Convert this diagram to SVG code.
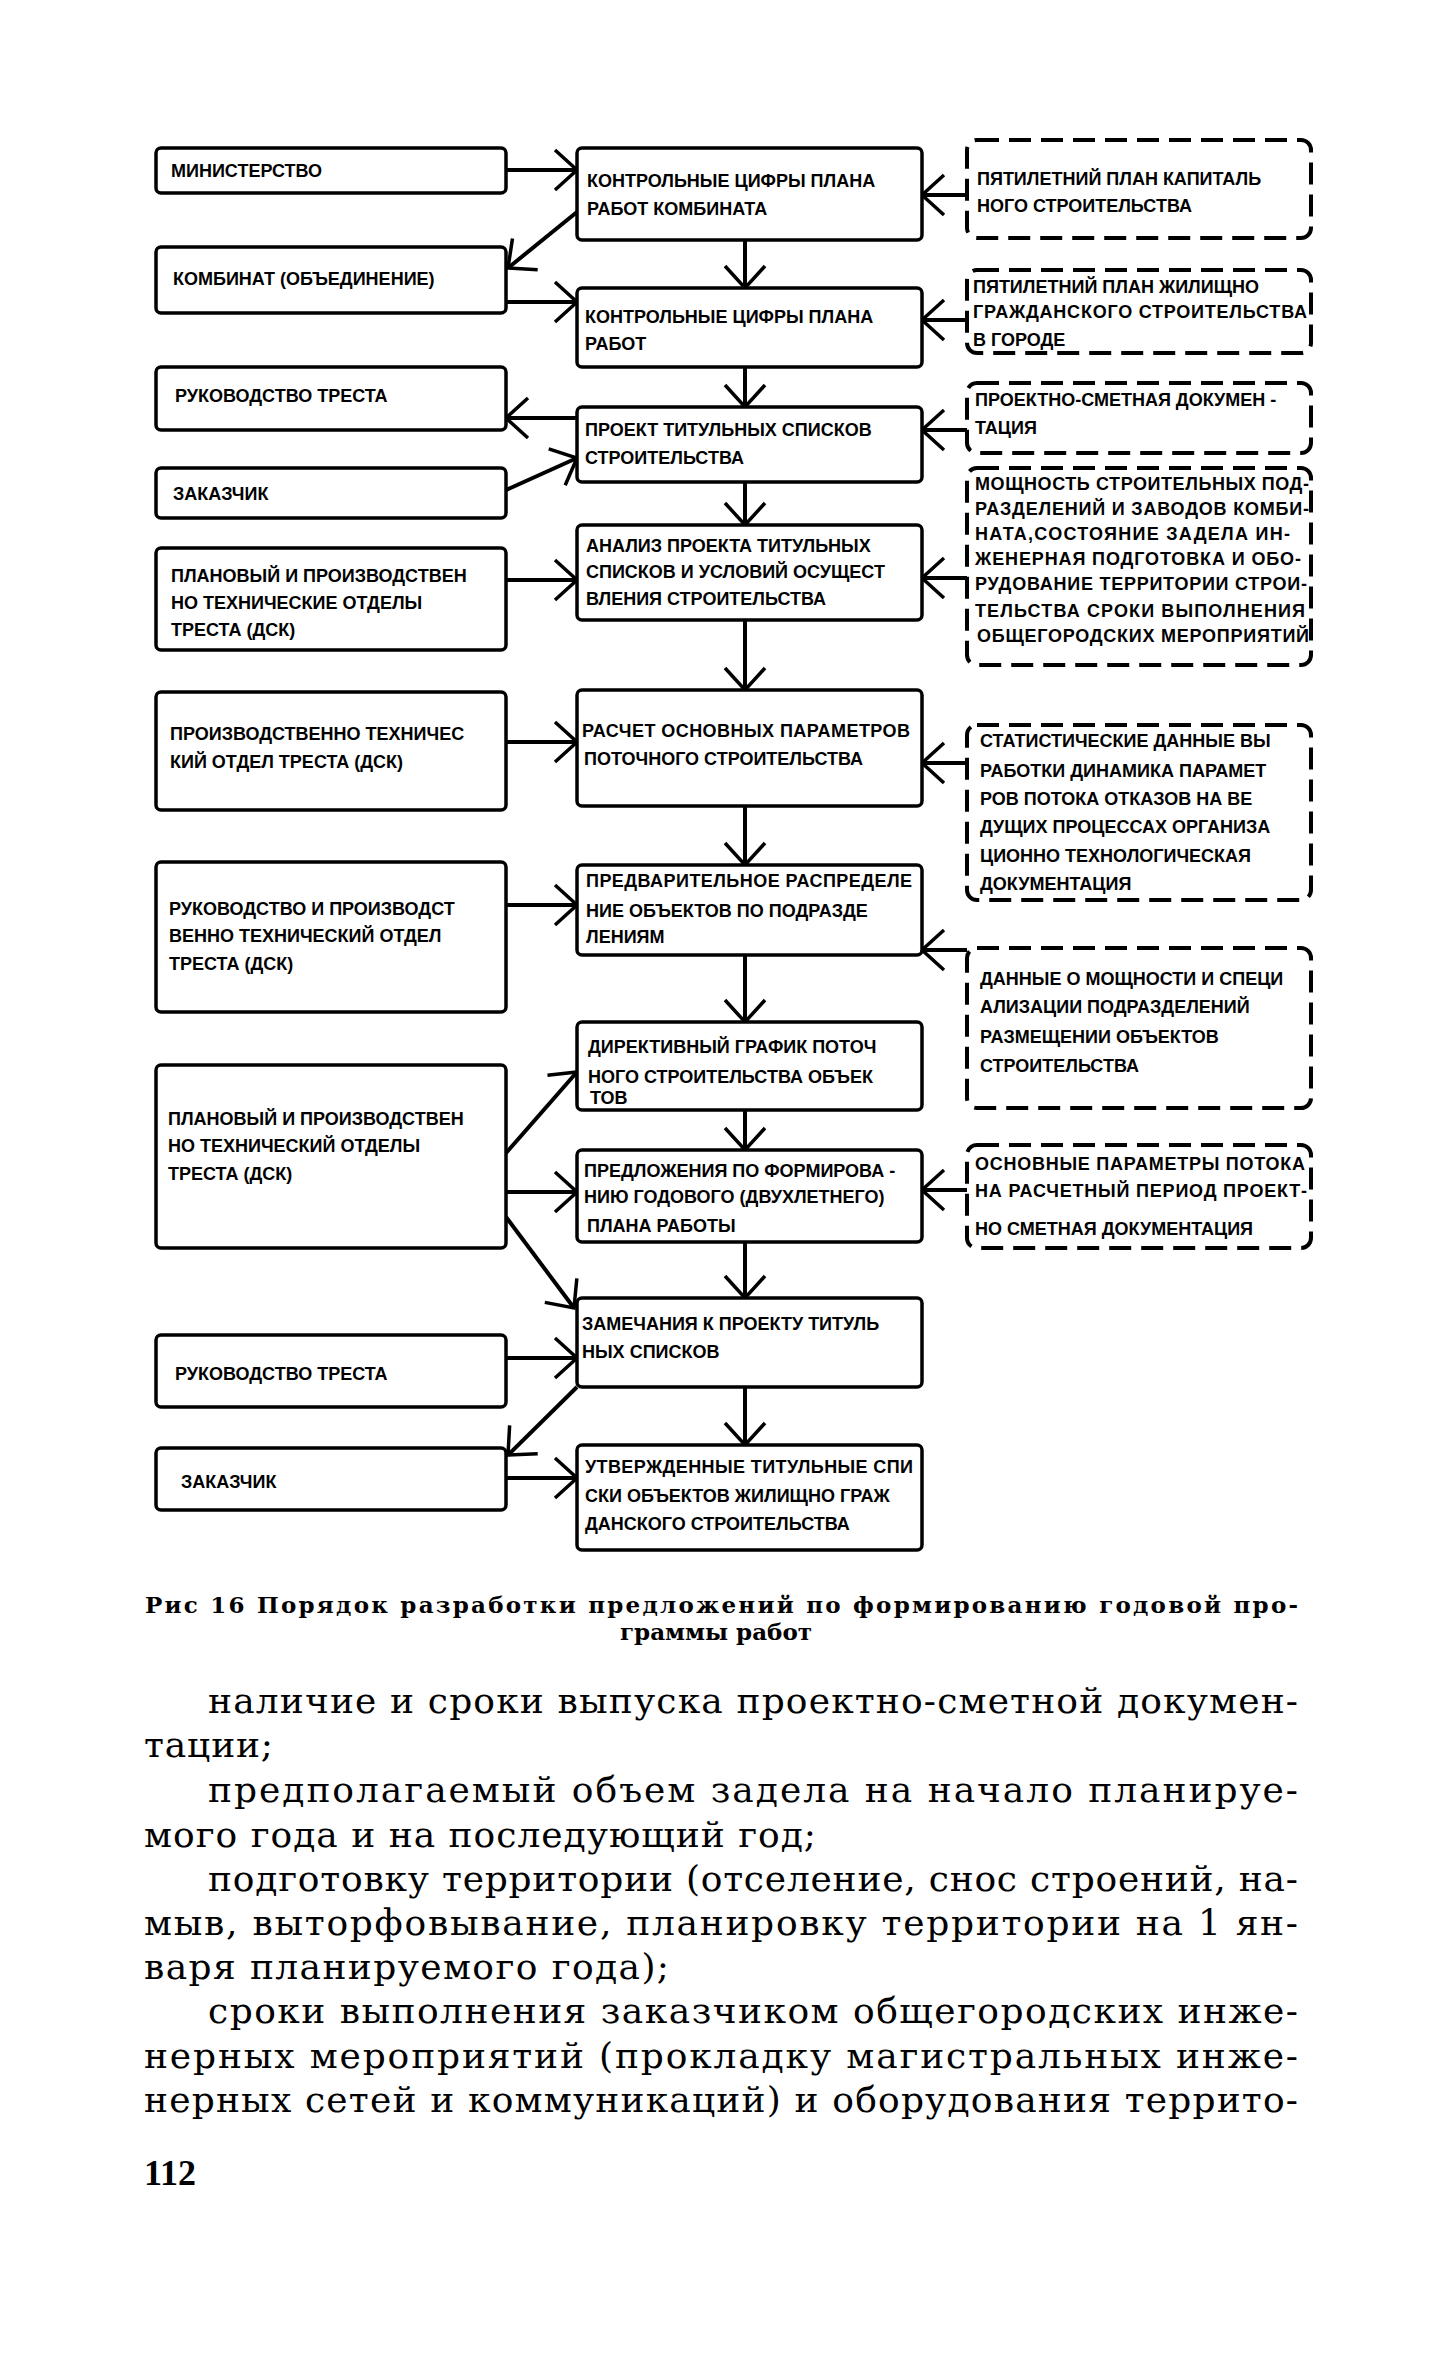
<svg xmlns="http://www.w3.org/2000/svg" width="1449" height="2362" viewBox="0 0 1449 2362">
<style>
.box{fill:#fff;stroke:#000;stroke-width:3.5}
.dbox{fill:#fff;stroke:#000;stroke-width:4;stroke-dasharray:22 10}
.t{font-family:"Liberation Sans",Arial,sans-serif;font-weight:bold;font-size:18px;fill:#000}
.c{stroke:#000;stroke-width:4;fill:none;marker-end:url(#ah)}
.body{font-family:"DejaVu Serif","Liberation Serif",serif;font-size:36px;fill:#000}
.cap{font-family:"DejaVu Serif","Liberation Serif",serif;font-weight:bold;font-size:23px;fill:#000}
.pg{font-family:"Liberation Serif","Times New Roman",serif;font-weight:bold;font-size:36px;fill:#000}
</style>
<defs>
<marker id="ah" markerUnits="userSpaceOnUse" markerWidth="30" markerHeight="46" viewBox="0 0 30 46" refX="26" refY="23" orient="auto">
<path d="M4,3 L26,23 L4,43" fill="none" stroke="#000" stroke-width="3.5"/>
</marker>
</defs>
<rect width="1449" height="2362" fill="#fff"/>

<g id="connectors">
<line class="c" x1="506" y1="170" x2="577" y2="170"/>
<line class="c" x1="577" y1="212" x2="508" y2="268"/>
<line class="c" x1="506" y1="302" x2="577" y2="302"/>
<line class="c" x1="967" y1="195" x2="922" y2="195"/>
<line class="c" x1="967" y1="320" x2="922" y2="320"/>
<line class="c" x1="577" y1="418" x2="506" y2="418"/>
<line class="c" x1="506" y1="490" x2="577" y2="458"/>
<line class="c" x1="967" y1="430" x2="922" y2="430"/>
<line class="c" x1="506" y1="580" x2="577" y2="580"/>
<line class="c" x1="967" y1="578" x2="922" y2="578"/>
<line class="c" x1="506" y1="742" x2="577" y2="742"/>
<line class="c" x1="967" y1="763" x2="922" y2="763"/>
<line class="c" x1="506" y1="905" x2="577" y2="905"/>
<line class="c" x1="967" y1="950" x2="922" y2="950"/>
<line class="c" x1="506" y1="1153" x2="577" y2="1072"/>
<line class="c" x1="506" y1="1192" x2="577" y2="1192"/>
<line class="c" x1="506" y1="1217" x2="574" y2="1308"/>
<line class="c" x1="967" y1="1190" x2="922" y2="1190"/>
<line class="c" x1="506" y1="1358" x2="577" y2="1358"/>
<line class="c" x1="577" y1="1387" x2="508" y2="1455"/>
<line class="c" x1="506" y1="1478" x2="577" y2="1478"/>
<line class="c" x1="745" y1="240" x2="745" y2="288"/>
<line class="c" x1="745" y1="367" x2="745" y2="407"/>
<line class="c" x1="745" y1="482" x2="745" y2="525"/>
<line class="c" x1="745" y1="620" x2="745" y2="690"/>
<line class="c" x1="745" y1="806" x2="745" y2="865"/>
<line class="c" x1="745" y1="955" x2="745" y2="1022"/>
<line class="c" x1="745" y1="1110" x2="745" y2="1150"/>
<line class="c" x1="745" y1="1242" x2="745" y2="1298"/>
<line class="c" x1="745" y1="1387" x2="745" y2="1445"/>
</g>

<g id="n-ministry"><rect class="box" x="156" y="148" width="350" height="45" rx="5"/><text class="t" x="171" y="177">МИНИСТЕРСТВО</text></g>
<g id="n-kombinat"><rect class="box" x="156" y="247" width="350" height="66" rx="5"/><text class="t" x="173" y="285">КОМБИНАТ (ОБЪЕДИНЕНИЕ)</text></g>
<g id="n-rukovodstvo1"><rect class="box" x="156" y="367" width="350" height="63" rx="5"/><text class="t" x="175" y="402">РУКОВОДСТВО ТРЕСТА</text></g>
<g id="n-zakazchik1"><rect class="box" x="156" y="468" width="350" height="50" rx="5"/><text class="t" x="173" y="500">ЗАКАЗЧИК</text></g>
<g id="n-planovy1"><rect class="box" x="156" y="548" width="350" height="102" rx="5"/><text class="t" x="171" y="582">ПЛАНОВЫЙ И ПРОИЗВОДСТВЕН</text><text class="t" x="171" y="609">НО ТЕХНИЧЕСКИЕ ОТДЕЛЫ</text><text class="t" x="171" y="636">ТРЕСТА (ДСК)</text></g>
<g id="n-pto"><rect class="box" x="156" y="692" width="350" height="118" rx="5"/><text class="t" x="170" y="740">ПРОИЗВОДСТВЕННО ТЕХНИЧЕС</text><text class="t" x="170" y="768">КИЙ ОТДЕЛ ТРЕСТА (ДСК)</text></g>
<g id="n-rukpto"><rect class="box" x="156" y="862" width="350" height="150" rx="5"/><text class="t" x="169" y="915">РУКОВОДСТВО И ПРОИЗВОДСТ</text><text class="t" x="169" y="942">ВЕННО ТЕХНИЧЕСКИЙ ОТДЕЛ</text><text class="t" x="169" y="970">ТРЕСТА (ДСК)</text></g>
<g id="n-planovy2"><rect class="box" x="156" y="1065" width="350" height="183" rx="5"/><text class="t" x="168" y="1125">ПЛАНОВЫЙ И ПРОИЗВОДСТВЕН</text><text class="t" x="168" y="1152">НО ТЕХНИЧЕСКИЙ ОТДЕЛЫ</text><text class="t" x="168" y="1180">ТРЕСТА (ДСК)</text></g>
<g id="n-rukovodstvo2"><rect class="box" x="156" y="1335" width="350" height="72" rx="5"/><text class="t" x="175" y="1380">РУКОВОДСТВО ТРЕСТА</text></g>
<g id="n-zakazchik2"><rect class="box" x="156" y="1448" width="350" height="62" rx="5"/><text class="t" x="181" y="1488">ЗАКАЗЧИК</text></g>

<g id="n-kc1"><rect class="box" x="577" y="148" width="345" height="92" rx="5"/><text class="t" x="587" y="187">КОНТРОЛЬНЫЕ ЦИФРЫ ПЛАНА</text><text class="t" x="587" y="215">РАБОТ КОМБИНАТА</text></g>
<g id="n-kc2"><rect class="box" x="577" y="288" width="345" height="79" rx="5"/><text class="t" x="585" y="323">КОНТРОЛЬНЫЕ ЦИФРЫ ПЛАНА</text><text class="t" x="585" y="350">РАБОТ</text></g>
<g id="n-proekt"><rect class="box" x="577" y="407" width="345" height="75" rx="5"/><text class="t" x="585" y="436">ПРОЕКТ ТИТУЛЬНЫХ СПИСКОВ</text><text class="t" x="585" y="464">СТРОИТЕЛЬСТВА</text></g>
<g id="n-analiz"><rect class="box" x="577" y="525" width="345" height="95" rx="5"/><text class="t" x="586" y="552">АНАЛИЗ ПРОЕКТА ТИТУЛЬНЫХ</text><text class="t" x="586" y="578">СПИСКОВ И УСЛОВИЙ ОСУЩЕСТ</text><text class="t" x="586" y="605">ВЛЕНИЯ СТРОИТЕЛЬСТВА</text></g>
<g id="n-raschet"><rect class="box" x="577" y="690" width="345" height="116" rx="5"/><text class="t" x="582" y="737" textLength="328">РАСЧЕТ ОСНОВНЫХ ПАРАМЕТРОВ</text><text class="t" x="584" y="765">ПОТОЧНОГО СТРОИТЕЛЬСТВА</text></g>
<g id="n-predv"><rect class="box" x="577" y="865" width="345" height="90" rx="5"/><text class="t" x="586" y="887" textLength="326">ПРЕДВАРИТЕЛЬНОЕ РАСПРЕДЕЛЕ</text><text class="t" x="586" y="917">НИЕ ОБЪЕКТОВ ПО ПОДРАЗДЕ</text><text class="t" x="586" y="943">ЛЕНИЯМ</text></g>
<g id="n-direkt"><rect class="box" x="577" y="1022" width="345" height="88" rx="5"/><text class="t" x="588" y="1053">ДИРЕКТИВНЫЙ ГРАФИК ПОТОЧ</text><text class="t" x="588" y="1083">НОГО  СТРОИТЕЛЬСТВА ОБЪЕК</text><text class="t" x="590" y="1104">ТОВ</text></g>
<g id="n-predl"><rect class="box" x="577" y="1150" width="345" height="92" rx="5"/><text class="t" x="584" y="1177">ПРЕДЛОЖЕНИЯ ПО ФОРМИРОВА -</text><text class="t" x="584" y="1203">НИЮ ГОДОВОГО (ДВУХЛЕТНЕГО)</text><text class="t" x="587" y="1232">ПЛАНА РАБОТЫ</text></g>
<g id="n-zamech"><rect class="box" x="577" y="1298" width="345" height="89" rx="5"/><text class="t" x="582" y="1330">ЗАМЕЧАНИЯ К ПРОЕКТУ ТИТУЛЬ</text><text class="t" x="582" y="1358">НЫХ СПИСКОВ</text></g>
<g id="n-utv"><rect class="box" x="577" y="1445" width="345" height="105" rx="5"/><text class="t" x="585" y="1473" textLength="328">УТВЕРЖДЕННЫЕ ТИТУЛЬНЫЕ СПИ</text><text class="t" x="585" y="1502">СКИ ОБЪЕКТОВ ЖИЛИЩНО ГРАЖ</text><text class="t" x="585" y="1530">ДАНСКОГО СТРОИТЕЛЬСТВА</text></g>

<g id="n-plan-kap"><rect class="dbox" x="967" y="140" width="344" height="98" rx="10"/><text class="t" x="977" y="185">ПЯТИЛЕТНИЙ ПЛАН КАПИТАЛЬ</text><text class="t" x="977" y="212">НОГО СТРОИТЕЛЬСТВА</text></g>
<g id="n-plan-zhil"><rect class="dbox" x="967" y="270" width="344" height="83" rx="10"/><text class="t" x="973" y="293">ПЯТИЛЕТНИЙ ПЛАН ЖИЛИЩНО</text><text class="t" x="973" y="318" textLength="334">ГРАЖДАНСКОГО СТРОИТЕЛЬСТВА</text><text class="t" x="973" y="346">В ГОРОДЕ</text></g>
<g id="n-psd"><rect class="dbox" x="967" y="383" width="344" height="70" rx="10"/><text class="t" x="975" y="406">ПРОЕКТНО-СМЕТНАЯ ДОКУМЕН -</text><text class="t" x="975" y="434">ТАЦИЯ</text></g>
<g id="n-moshch"><rect class="dbox" x="967" y="468" width="344" height="197" rx="10"/>
<text class="t" x="975" y="490" textLength="334">МОЩНОСТЬ СТРОИТЕЛЬНЫХ ПОД-</text>
<text class="t" x="975" y="515" textLength="334">РАЗДЕЛЕНИЙ И ЗАВОДОВ КОМБИ-</text>
<text class="t" x="975" y="540" textLength="315">НАТА,СОСТОЯНИЕ ЗАДЕЛА ИН-</text>
<text class="t" x="975" y="565" textLength="326">ЖЕНЕРНАЯ ПОДГОТОВКА И ОБО-</text>
<text class="t" x="975" y="590" textLength="332">РУДОВАНИЕ ТЕРРИТОРИИ СТРОИ-</text>
<text class="t" x="975" y="617" textLength="330">ТЕЛЬСТВА СРОКИ ВЫПОЛНЕНИЯ</text>
<text class="t" x="977" y="642" textLength="332">ОБЩЕГОРОДСКИХ МЕРОПРИЯТИЙ</text></g>
<g id="n-stat"><rect class="dbox" x="967" y="725" width="344" height="175" rx="10"/>
<text class="t" x="980" y="747">СТАТИСТИЧЕСКИЕ ДАННЫЕ ВЫ</text>
<text class="t" x="980" y="777">РАБОТКИ ДИНАМИКА ПАРАМЕТ</text>
<text class="t" x="980" y="805">РОВ ПОТОКА ОТКАЗОВ НА ВЕ</text>
<text class="t" x="980" y="833">ДУЩИХ ПРОЦЕССАХ ОРГАНИЗА</text>
<text class="t" x="980" y="862">ЦИОННО ТЕХНОЛОГИЧЕСКАЯ</text>
<text class="t" x="980" y="890">ДОКУМЕНТАЦИЯ</text></g>
<g id="n-dannye"><rect class="dbox" x="967" y="948" width="344" height="160" rx="10"/>
<text class="t" x="980" y="985">ДАННЫЕ О МОЩНОСТИ И СПЕЦИ</text>
<text class="t" x="980" y="1013">АЛИЗАЦИИ ПОДРАЗДЕЛЕНИЙ</text>
<text class="t" x="980" y="1043">РАЗМЕЩЕНИИ ОБЪЕКТОВ</text>
<text class="t" x="980" y="1072">СТРОИТЕЛЬСТВА</text></g>
<g id="n-osnov"><rect class="dbox" x="967" y="1145" width="344" height="103" rx="10"/>
<text class="t" x="975" y="1170" textLength="330">ОСНОВНЫЕ ПАРАМЕТРЫ ПОТОКА</text>
<text class="t" x="975" y="1197" textLength="332">НА РАСЧЕТНЫЙ ПЕРИОД ПРОЕКТ-</text>
<text class="t" x="975" y="1235">НО СМЕТНАЯ ДОКУМЕНТАЦИЯ</text></g>

<g id="caption">
<text class="cap" x="145" y="1613" textLength="1153">Рис  16  Порядок разработки предложений по формированию годовой про-</text>
<text class="cap" x="716" y="1640" text-anchor="middle">граммы работ</text>
</g>
<g id="body">
<text class="body" x="208" y="1713" textLength="1090">наличие и сроки выпуска проектно-сметной докумен-</text>
<text class="body" x="144" y="1757" textLength="129">тации;</text>
<text class="body" x="208" y="1802" textLength="1090">предполагаемый объем задела на начало планируе-</text>
<text class="body" x="144" y="1847" textLength="672">мого года и на последующий год;</text>
<text class="body" x="208" y="1891" textLength="1090">подготовку территории (отселение, снос строений, на-</text>
<text class="body" x="144" y="1935" textLength="1154">мыв, выторфовывание, планировку территории на 1 ян-</text>
<text class="body" x="144" y="1979" textLength="525">варя планируемого года);</text>
<text class="body" x="208" y="2023" textLength="1090">сроки выполнения заказчиком общегородских инже-</text>
<text class="body" x="144" y="2068" textLength="1154">нерных мероприятий (прокладку магистральных инже-</text>
<text class="body" x="144" y="2112" textLength="1154">нерных сетей и коммуникаций) и оборудования террито-</text>
<text class="pg" x="144" y="2185">112</text>
</g>
</svg>
